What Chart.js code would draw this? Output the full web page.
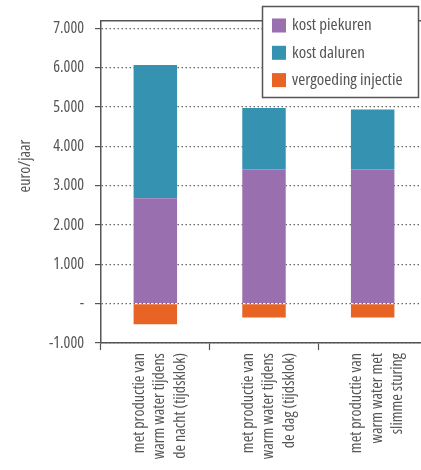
<!DOCTYPE html>
<html><head><meta charset="utf-8">
<script src="https://cdn.jsdelivr.net/npm/chart.js@4/dist/chart.umd.min.js"></script>
<style>html,body{margin:0;padding:0;overflow:hidden;background:#fff}
#wrap{position:relative;width:430px;height:470px}</style>
</head><body><div id="wrap"><canvas id="c" width="430" height="470"></canvas></div>
<script>
const categories = [
  ["met productie van", "warm water tijdens", "de nacht (tijdsklok)"],
  ["met productie van", "warm water tijdens", "de dag (tijdsklok)"],
  ["met productie van", "warm water met", "slimme sturing"]
];
const seriesNames = ["kost piekuren", "kost daluren", "vergoeding injectie"];
const kostPiekuren = [2680, 3410, 3410];
const kostDaluren = [3390, 1570, 1530];
const vergoedingInjectie = [-520, -350, -350];
const yTickValues = [-1000, 0, 1000, 2000, 3000, 4000, 5000, 6000, 7000];
const yTitle = "euro/jaar";

const FAMILY = "'Open Sans', 'Liberation Sans', sans-serif";
const TXT = '#555';
const colors = ['#9A6FAF', '#3592B1', '#E86425'];

Chart.defaults.font.family = FAMILY;
Chart.defaults.font.weight = 'condensed';
Chart.defaults.font.size = 16;

function fmt(v) {
  if (v === 0) return '-';
  const s = Math.abs(v).toString().replace(/\B(?=(\d{3})+(?!\d))/g, '.');
  return (v < 0 ? '-' : '') + s;
}

const boxLegend = {
  id: 'boxLegend',
  afterDraw(chart) {
    const ctx = chart.ctx;
    ctx.save();
    ctx.fillStyle = TXT;
    ctx.font = "condensed 16px " + FAMILY;
    ctx.translate(25, 166);
    ctx.rotate(-Math.PI / 2);
    ctx.textAlign = 'center';
    ctx.textBaseline = 'middle';
    ctx.fillText(yTitle, 0, 0);
    ctx.restore();

    ctx.save();
    const bx = 262.5, by = 6.5, bw = 156, bh = 91;
    ctx.fillStyle = '#fff';
    ctx.fillRect(bx, by, bw, bh);
    ctx.strokeStyle = '#555';
    ctx.lineWidth = 1.5;
    ctx.strokeRect(bx, by, bw, bh);
    ctx.font = "condensed 17px " + FAMILY;
    ctx.textBaseline = 'middle';
    ctx.textAlign = 'left';
    chart.data.datasets.forEach((ds, i) => {
      const cy = 25.5 + i * 27.3;
      ctx.fillStyle = ds.backgroundColor;
      ctx.fillRect(272, cy - 7, 14, 14);
      ctx.fillStyle = TXT;
      ctx.fillText(ds.label, 292, cy);
    });
    ctx.restore();
  }
};

new Chart(document.getElementById('c'), {
  type: 'bar',
  data: {
    labels: categories,
    datasets: [
      { label: seriesNames[0], data: kostPiekuren, backgroundColor: colors[0] },
      { label: seriesNames[1], data: kostDaluren, backgroundColor: colors[1] },
      { label: seriesNames[2], data: vergoedingInjectie, backgroundColor: colors[2] }
    ]
  },
  options: {
    responsive: false,
    animation: false,
    devicePixelRatio: 1,
    datasets: { bar: { categoryPercentage: 1, barPercentage: 0.4 } },
    layout: { padding: { top: 17, right: 3, left: 0, bottom: 0 } },
    plugins: { legend: { display: false }, tooltip: { enabled: false } },
    scales: {
      x: {
        stacked: true,
        offset: true,
        grid: { display: true, drawOnChartArea: false, drawTicks: true, tickLength: 7, tickColor: '#555', tickWidth: 1.2, offset: true },
        border: { display: true, color: '#555', width: 1.5 },
        ticks: { maxRotation: 90, minRotation: 90, autoSkip: false, padding: 3, labelOffset: -16, color: TXT,
                 font: { size: 16, lineHeight: 1.28 } },
        afterFit: s => { s.height = 127; s.paddingLeft = 0; s.paddingRight = 0; }
      },
      x2: {
        type: 'category',
        position: 'top',
        grid: { display: false, drawTicks: false },
        ticks: { display: false },
        border: { display: true, color: '#555', width: 1.5 },
        afterFit: s => { s.height = 0; s.paddingLeft = 0; s.paddingRight = 0; }
      },
      y: {
        stacked: true,
        min: -1000,
        max: 7200,
        afterBuildTicks: s => { s.ticks = yTickValues.map(v => ({ value: v })); },
        grid: { color: '#666', lineWidth: 1.2, drawTicks: true, tickLength: 6, tickColor: '#555', tickWidth: 1.2, tickBorderDash: [] },
        border: { display: true, color: '#555', width: 1.5, dash: [1.5, 2.5] },
        ticks: { padding: 11, color: TXT, font: { size: 16 }, callback: v => fmt(v) },
        afterFit: s => { s.width = 101; }
      }
    }
  },
  plugins: [boxLegend]
});
</script>
</body></html>
